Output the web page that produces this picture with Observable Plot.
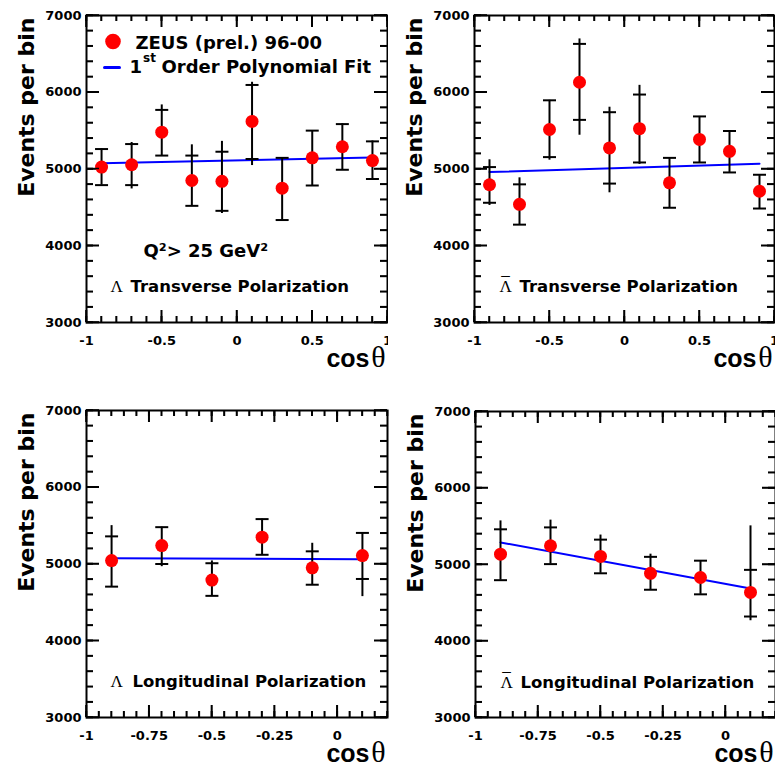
<!DOCTYPE html>
<html><head><meta charset="utf-8">
<script src="https://cdn.jsdelivr.net/npm/d3@7"></script>
<script src="https://cdn.jsdelivr.net/npm/@observablehq/plot@0.6"></script>
<style>
html,body{margin:0;padding:0;background:#fff;overflow:hidden}
#wrap{position:relative;width:775px;height:766px;overflow:hidden;background:#fff}
.panel{position:absolute;width:390px}
.panel svg{max-width:none !important}
</style></head><body><div id="wrap"></div>
<script>
// ---------- data ----------
const yTickValues = [3000, 4000, 5000, 6000, 7000];
const xTickValuesTop = [-1, -0.5, 0, 0.5, 1];
const xTickValuesBottom = [-1, -0.75, -0.5, -0.25, 0];

const cosTransverse = [-0.9, -0.7, -0.5, -0.3, -0.1, 0.1, 0.3, 0.5, 0.7, 0.9];
const cosLongitudinal = [-0.9, -0.7, -0.5, -0.3, -0.1, 0.1];

// Lambda transverse
const lamT = [5025, 5055, 5480, 4850, 4840, 5620, 4750, 5145, 5290, 5110];
const lamTStatHi = [5260, 5325, 5770, 5175, 5225, 6095, 5145, 5500, 5585, 5360];
const lamTStatLo = [4790, 4790, 5175, 4520, 4455, 5130, 4335, 4785, 4990, 4870];
const lamTTotHi = [5265, 5345, 5835, 5315, 5360, 6130, 5145, 5500, 5590, 5365];
const lamTTotLo = [4790, 4740, 5175, 4510, 4420, 5045, 4335, 4785, 4990, 4870];
const lamTFitX = [-0.9, 0.9];
const lamTFitY = [5075, 5150];

// anti-Lambda transverse
const alamT = [4795, 4540, 5515, 6130, 5275, 5525, 4820, 5385, 5230, 4710];
const alamTStatHi = [5025, 4800, 5895, 6630, 5740, 5970, 5145, 5685, 5495, 4925];
const alamTStatLo = [4560, 4275, 5155, 5640, 4810, 5085, 4495, 5085, 4955, 4485];
const alamTTotHi = [5120, 4885, 5895, 6695, 5805, 6090, 5145, 5685, 5495, 4925];
const alamTTotLo = [4525, 4275, 5115, 5440, 4690, 5060, 4495, 5085, 4955, 4485];
const alamTFitX = [-0.9, 0.9];
const alamTFitY = [4960, 5070];

// Lambda longitudinal
const lamL = [5045, 5240, 4790, 5350, 4950, 5110];
const lamLStatHi = [5360, 5480, 5010, 5585, 5165, 5405];
const lamLStatLo = [4705, 5000, 4585, 5120, 4730, 4805];
const lamLTotHi = [5500, 5480, 5040, 5585, 5270, 5405];
const lamLTotLo = [4705, 4965, 4585, 5120, 4730, 4575];
const lamLFitX = [-0.9, 0.1];
const lamLFitY = [5075, 5062];

// anti-Lambda longitudinal
const alamL = [5135, 5245, 5105, 4885, 4830, 4635];
const alamLStatHi = [5460, 5485, 5325, 5100, 5050, 4930];
const alamLStatLo = [4795, 5005, 4885, 4670, 4610, 4320];
const alamLTotHi = [5570, 5580, 5385, 5135, 5050, 5505];
const alamLTotLo = [4795, 5005, 4885, 4670, 4610, 4265];
const alamLFitX = [-0.9, 0.1];
const alamLFitY = [5288, 4686];

const legendLabels = ["ZEUS (prel.) 96-00", "1", "st", "Order Polynomial Fit"];
const cutLabel = "Q²> 25 GeV²";

// ---------- drawing ----------
const tickLine = {draw(ctx, l) { ctx.moveTo(0, 0); ctx.lineTo(0, -l); }};
const capLine = {draw(ctx) { ctx.moveTo(-6.5, 0); ctx.lineTo(6.5, 0); }};
const SANS = "DejaVu Sans";
const SERIF = "Liberation Serif";
const ARIAL = "Liberation Sans";

function txt(s, o) {
  return Plot.text([s], {text: d => d, lineAnchor: "middle", fontFamily: SANS, fontWeight: "bold", ...o});
}

function tickSets(cfg) {
  const [x0, x1] = cfg.xDomain;
  const xMinor = d3.range(Math.round((x1 - x0) / cfg.xMinorStep) + 1).map(i => x0 + i * cfg.xMinorStep);
  const yMinor = d3.range(21).map(i => 3000 + i * 200);
  const xt = [...xMinor.map(x => ({x, len: 6})), ...cfg.xTicks.map(x => ({x, len: 12}))];
  const yt = [...yMinor.map(y => ({y, len: 7})), ...yTickValues.map(y => ({y, len: 13}))];
  return {xt, yt};
}

function makePanel(cfg) {
  const rows = cfg.x.map((x, i) => ({
    x, y: cfg.y[i], sLo: cfg.sLo[i], sHi: cfg.sHi[i],
    tLo: Math.min(cfg.tLo[i], cfg.sLo[i]), tHi: Math.max(cfg.tHi[i], cfg.sHi[i])
  }));
  const fit = cfg.fitX.map((x, i) => ({x, y: cfg.fitY[i]}));
  const [x0, x1] = cfg.xDomain;
  const fw = cfg.width - 86 - cfg.mr, fh = cfg.frameH;
  const ky = 4000 / fh, kx = (x1 - x0) / fw;
  const {xt, yt} = tickSets(cfg);
  const xTickRows = [
    ...xt.map(d => ({x: d.x, y1: 3000, y2: 3000 + d.len * ky})),
    ...xt.map(d => ({x: d.x, y1: 7000 - d.len * ky, y2: 7000}))
  ];
  const yTickRows = [
    ...yt.map(d => ({y: d.y, x1: x0, x2: x0 + d.len * kx})),
    ...yt.map(d => ({y: d.y, x1: x1 - d.len * kx, x2: x1}))
  ];
  const marks = [
    Plot.axisX(cfg.xTicks, {tickSize: 0, tickPadding: 13, tickFormat: d => String(d), fontSize: 13, label: null}),
    Plot.axisY(yTickValues, {tickSize: 0, tickPadding: 5, tickFormat: d => String(d), fontSize: 13, label: null}),
    Plot.ruleX(xTickRows, {x: "x", y1: "y1", y2: "y2", stroke: "black", strokeWidth: 1.5}),
    Plot.ruleY(yTickRows, {y: "y", x1: "x1", x2: "x2", stroke: "black", strokeWidth: 1.5}),
    Plot.line(fit, {x: "x", y: "y", stroke: "#0000ff", strokeWidth: 2}),
    Plot.ruleX(rows, {x: "x", y1: "tLo", y2: "tHi", stroke: "black", strokeWidth: 2}),
    Plot.dot(rows, {x: "x", y: "sLo", symbol: capLine, stroke: "black", strokeWidth: 2, fill: "none"}),
    Plot.dot(rows, {x: "x", y: "sHi", symbol: capLine, stroke: "black", strokeWidth: 2, fill: "none"}),
    Plot.dot(rows, {x: "x", y: "y", r: 6.5, fill: "#ff0000", stroke: "none"}),
    Plot.frame({stroke: "black", strokeWidth: 2}),
    txt("Events per bin", {frameAnchor: "top-left", dx: -60, dy: 2, rotate: -90, textAnchor: "end", fontSize: 22}),
    txt("cos", {frameAnchor: "bottom-right", dx: -18, dy: 36, textAnchor: "end", fontSize: 25, fontFamily: ARIAL}),
    txt("θ", {frameAnchor: "bottom-right", dx: -2, dy: 34.5, textAnchor: "end", fontSize: 30, fontFamily: SERIF, fontWeight: "normal"}),
    txt("Λ", {frameAnchor: "top-left", dx: cfg.pdx, dy: 271.5, textAnchor: "start", fontSize: 17, fontFamily: SERIF, fontWeight: "normal"}),
    ...(cfg.bar ? [txt("¯", {frameAnchor: "top-left", dx: cfg.pdx + 6, dy: 268, textAnchor: "middle", fontSize: 17, fontFamily: SERIF, fontWeight: "normal"})] : []),
    txt(cfg.title, {frameAnchor: "top-left", dx: cfg.tdx, dy: 271.5, textAnchor: "start", fontSize: 16.5}),
    ...(cfg.extra || [])
  ];
  const svg = Plot.plot({
    width: cfg.width, height: cfg.height,
    marginLeft: 86, marginRight: cfg.mr, marginTop: 15, marginBottom: cfg.height - 15 - cfg.frameH,
    x: {domain: cfg.xDomain, label: null},
    y: {domain: [3000, 7000], label: null},
    style: {fontFamily: SANS, fontWeight: "bold", fontSize: "13px", background: "white", overflow: "visible"},
    marks
  });
  // inward frame ticks, placed with the plot's own scales
  const sx = svg.scale("x"), sy = svg.scale("y");
  const top = 15, bottom = 15 + fh, left = 86, right = cfg.width - cfg.mr;
  const g = d3.select(svg).append("g").attr("class", "frame-ticks")
    .attr("stroke", "black").attr("stroke-width", 1.5).attr("fill", "none");
  for (const d of xt) {
    const px = sx.apply(d.x);
    g.append("line").attr("x1", px).attr("x2", px).attr("y1", bottom).attr("y2", bottom - d.len);
    g.append("line").attr("x1", px).attr("x2", px).attr("y1", top).attr("y2", top + d.len);
  }
  for (const d of yt) {
    const py = sy.apply(d.y);
    g.append("line").attr("x1", left).attr("x2", left + d.len).attr("y1", py).attr("y2", py);
    g.append("line").attr("x1", right).attr("x2", right - d.len).attr("y1", py).attr("y2", py);
  }
  return svg;
}

const legendMarks = [
  Plot.dot([0], {frameAnchor: "top-left", dx: 26.5, dy: 26, r: 7.8, fill: "#ff0000", stroke: "none"}),
  Plot.vector([0], {frameAnchor: "top-left", dx: 18, dy: 52, rotate: 90, length: 15, anchor: "start", shape: tickLine, stroke: "#0000ff", strokeWidth: 3}),
  txt(legendLabels[0], {frameAnchor: "top-left", dx: 49, dy: 27.5, textAnchor: "start", fontSize: 18}),
  txt(legendLabels[1], {frameAnchor: "top-left", dx: 43, dy: 51.5, textAnchor: "start", fontSize: 18}),
  txt(legendLabels[2], {frameAnchor: "top-left", dx: 56.5, dy: 43, textAnchor: "start", fontSize: 12}),
  txt(legendLabels[3], {frameAnchor: "top-left", dx: 75, dy: 51.5, textAnchor: "start", fontSize: 18}),
  txt(cutLabel, {frameAnchor: "top-left", dx: 57, dy: 236, textAnchor: "start", fontSize: 18})
];

const panels = [
  {left: 0, top: 0, width: 390, height: 380, mr: 3, frameH: 307, xDomain: [-1, 1], xMinorStep: 0.1, xTicks: xTickValuesTop,
   x: cosTransverse, y: lamT, sLo: lamTStatLo, sHi: lamTStatHi, tLo: lamTTotLo, tHi: lamTTotHi, fitX: lamTFitX, fitY: lamTFitY,
   bar: false, pdx: 24, title: "Transverse Polarization", tdx: 44, extra: legendMarks},
  {left: 388, top: 0, width: 390, height: 380, mr: 4, frameH: 307, xDomain: [-1, 1], xMinorStep: 0.1, xTicks: xTickValuesTop,
   x: cosTransverse, y: alamT, sLo: alamTStatLo, sHi: alamTStatHi, tLo: alamTTotLo, tHi: alamTTotHi, fitX: alamTFitX, fitY: alamTFitY,
   bar: true, pdx: 25, title: "Transverse Polarization", tdx: 45},
  {left: 0, top: 395, width: 390, height: 371, mr: 3, frameH: 307, xDomain: [-1, 0.2], xMinorStep: 0.05, xTicks: xTickValuesBottom,
   x: cosLongitudinal, y: lamL, sLo: lamLStatLo, sHi: lamLStatHi, tLo: lamLTotLo, tHi: lamLTotHi, fitX: lamLFitX, fitY: lamLFitY,
   bar: false, pdx: 24, title: "Longitudinal Polarization", tdx: 46},
  {left: 389, top: 396, width: 390, height: 370, mr: 4, frameH: 306, xDomain: [-1, 0.2], xMinorStep: 0.05, xTicks: xTickValuesBottom,
   x: cosLongitudinal, y: alamL, sLo: alamLStatLo, sHi: alamLStatHi, tLo: alamLTotLo, tHi: alamLTotHi, fitX: alamLFitX, fitY: alamLFitY,
   bar: true, pdx: 25, title: "Longitudinal Polarization", tdx: 45}
];

const wrap = document.getElementById("wrap");
for (const p of panels) {
  const div = document.createElement("div");
  div.className = "panel";
  div.style.left = p.left + "px";
  div.style.top = p.top + "px";
  div.appendChild(makePanel(p));
  wrap.appendChild(div);
}
</script>
</body></html>
